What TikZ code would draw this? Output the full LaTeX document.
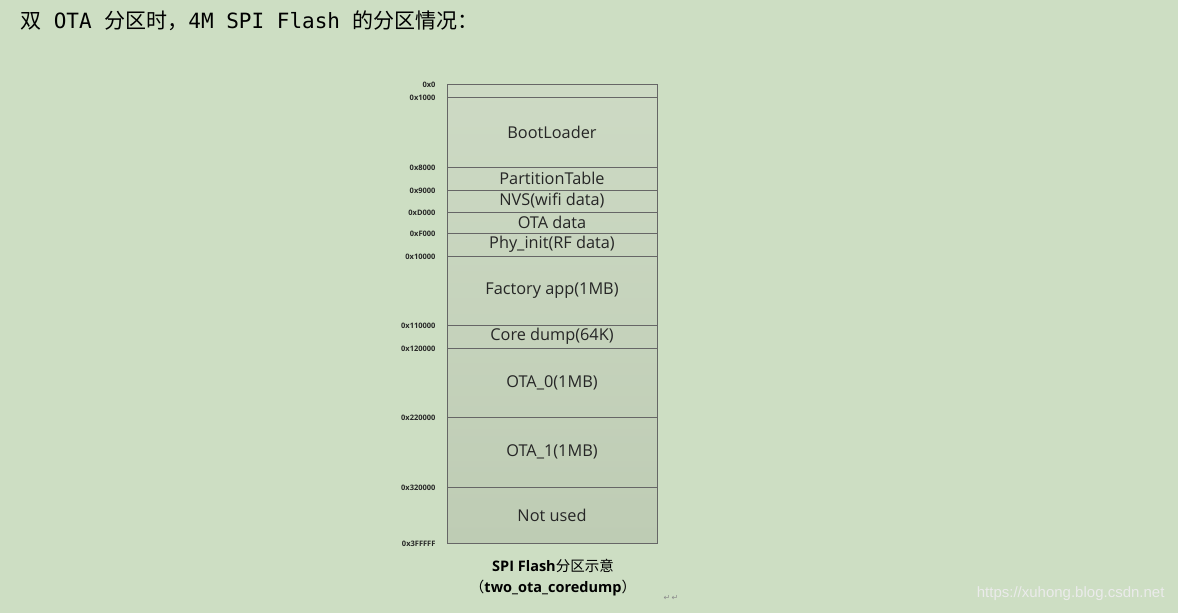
\documentclass[tikz,border=0pt]{standalone}
\usepackage{fontspec}
\setmainfont{Open Sans}
\newfontfamily\cjk{Noto Sans CJK SC}
\newfontfamily\mono{DejaVu Sans Mono}
\newfontfamily\dv{DejaVu Sans}
\newfontfamily\lib{Liberation Sans}
\begin{document}
\begin{tikzpicture}[x=1pt,y=-1pt,
  part/.style={draw=black!60,line width=0.8pt,fill=none},
  plbl/.style={font=\fontsize{16.3}{18}\selectfont,text=black!85},
  addr/.style={anchor=east,font=\bfseries\fontsize{7.5}{8}\selectfont,text=black!85}]
\fill[fill={rgb,255:red,205;green,222;blue,195}] (0,0) rectangle (1178,613);
\useasboundingbox (0,0) rectangle (1178,613);
\node[anchor=west,font=\fontsize{21}{24}\selectfont,inner sep=0pt] (title) at (20,21) {{\cjk 双}{\mono{} OTA }{\cjk 分区时，}{\mono 4M SPI Flash }{\cjk 的分区情况：}};
\shade[top color={rgb,255:red,205;green,218;blue,196},bottom color={rgb,255:red,190;green,204;blue,180}] (447,84) rectangle (657,543);
\foreach \a/\b/\t [count=\i] in {84/97/{},97/167/BootLoader,167/190/PartitionTable,190/212/NVS(wifi data),212/233/OTA data,233/256/Phy\_init(RF data),256/325/Factory app(1MB),325/348/Core dump(64K),348/417/OTA\_0(1MB),417/487/OTA\_1(1MB),487/543/Not used}{
  \draw[part] (447,\a) rectangle (657,\b);
  \node[plbl] (p\i) at (552,{(\a+\b)/2}) {\t};
}
\foreach \y/\t [count=\i] in {84/0x0,97/0x1000,167/0x8000,190/0x9000,212/0xD000,233/0xF000,256/0x10000,325/0x110000,348/0x120000,417/0x220000,487/0x320000,543/0x3FFFFF}{
  \node[addr] (a\i) at (439,\y+0.5) {\t};
}
\node[font=\bfseries\fontsize{14.5}{16}\selectfont] (cap1) at (553,566) {SPI Flash{\cjk\mdseries 分区示意}};
\node[font=\bfseries\fontsize{14.5}{16}\selectfont] (cap2) at (553,588) {{\cjk\mdseries （}two\_ota\_coredump{\cjk\mdseries ）}};
\node[font=\dv\fontsize{8}{8}\selectfont,text=black!45] (ret) at (671,598) {↵\,↵};
\node[anchor=east,font=\lib\fontsize{15}{17}\selectfont,text=white!92!black] (wm) at (1168,594) {https://xuhong.blog.csdn.net};
\end{tikzpicture}
\end{document}
